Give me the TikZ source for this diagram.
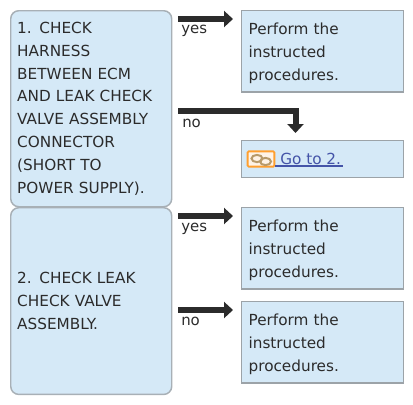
\documentclass[tikz,border=0pt]{standalone}
\usepackage{fontspec}
\setmainfont{DejaVu Sans}
\usetikzlibrary{arrows.meta}
\definecolor{boxfill}{HTML}{D5E9F7}
\definecolor{stepedge}{HTML}{A8B0B6}
\definecolor{resedge}{HTML}{9CA3A8}
\definecolor{ink}{HTML}{2B2B2B}
\definecolor{linkblue}{HTML}{4454A8}
\definecolor{chainor}{HTML}{FF9F2E}
\definecolor{chaing}{HTML}{B89A6A}
\newcommand{\firstup}{\rule{0pt}{11pt}}
\tikzset{
  x=0.75pt,y=-0.75pt,
  txt/.style={font=\fontsize{11.45pt}{17.25pt}\selectfont,text=ink},
  stepbox/.style={txt,draw=stepedge,line width=1.1pt,fill=boxfill,rounded corners=6pt,
    minimum width=120.75pt,text width=111pt,inner xsep=4.5pt,inner ysep=0pt,align=left,anchor=north west},
  resbox/.style={txt,draw=resedge,line width=0.9pt,fill=boxfill,
    minimum width=121.5pt,text width=111pt,inner xsep=5.25pt,inner ysep=0pt,align=left,anchor=north west},
  flow/.style={draw=ink,line width=4.9pt,-{Triangle[length=6.75pt,width=12pt]},line join=miter},
  lab/.style={font=\fontsize{11.2pt}{12pt}\selectfont,text=ink,anchor=base west,inner sep=0pt},
}
\begin{document}
\begin{tikzpicture}
\useasboundingbox (0,0) rectangle (413,404);
\node[stepbox,minimum height=147pt,font=\fontsize{11.45pt}{17.1pt}\selectfont] (s1) at (10,10) {1. CHECK\\HARNESS\\BETWEEN ECM\\AND LEAK CHECK\\VALVE ASSEMBLY\\CONNECTOR\\(SHORT TO\\POWER SUPPLY).};
\node[stepbox,minimum height=140pt] (s2) at (10,207) {2. CHECK LEAK\\CHECK VALVE\\ASSEMBLY.};
\node[resbox,minimum height=61pt] (r1) at (241,10) {\firstup Perform the\\instructed\\procedures.};
\node[resbox,minimum height=27.5pt] (r2) at (241,140) {};
\node[resbox,minimum height=61pt] (r3) at (241,207) {\firstup Perform the\\instructed\\procedures.};
\node[resbox,minimum height=61pt] (r4) at (241,301) {\firstup Perform the\\instructed\\procedures.};
% connector ends
\coordinate (a1) at (178,19); \coordinate (b1) at (233,19);
\coordinate (a2) at (178,110.5); \coordinate (c2) at (295.5,110.5); \coordinate (b2) at (295.5,133);
\coordinate (a3) at (178,216); \coordinate (b3) at (233,216);
\coordinate (a4) at (178,310); \coordinate (b4) at (233,310);
\draw[flow] (a1) -- (b1);
\draw[flow,line width=4.5pt] (a2) -- (c2) -- (b2);
\draw[flow] (a3) -- (b3);
\draw[flow] (a4) -- (b4);
\node[lab] (y1) at (181,33.5) {yes};
\node[lab] (n1) at (182,127) {no};
\node[lab] (y2) at (181,231.5) {yes};
\node[lab] (n2) at (181,325) {no};
% link
\node[draw=chainor,line width=1.4pt,fill=white!88!chainor,minimum width=20pt,minimum height=11.4pt,inner sep=0pt,rounded corners=0.8pt] (ic) at (261,159) {};
\draw[chaing,line width=1.5pt] (257,158.5) ellipse (5.5 and 3.6);
\draw[chaing,line width=1.5pt] (265.5,161.5) ellipse (5.5 and 3.6);
\node[font=\fontsize{11.45pt}{12pt}\selectfont,text=linkblue,anchor=base west,inner sep=0pt] (go) at (280,164.5) {Go to 2.};
\draw[linkblue,line width=0.85pt] (ic.east |- 0,166) -- (342.7,166);
\end{tikzpicture}
\end{document}
